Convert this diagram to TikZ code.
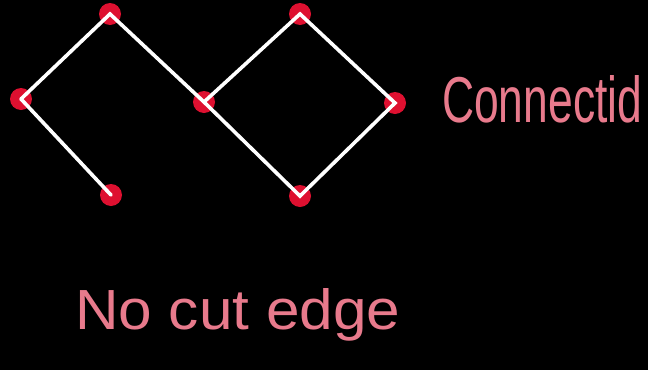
\documentclass[tikz,border=0pt]{standalone}
\usepackage{fontspec}
\usepackage{graphicx}
\setmainfont{Liberation Sans}
\definecolor{pinktext}{RGB}{232,122,140}
\definecolor{dotred}{RGB}{222,16,48}
\begin{document}
\begin{tikzpicture}[x=1pt,y=-1pt,
  vtx/.style={circle,fill=dotred,minimum size=22pt,inner sep=0pt},
  edge/.style={white,line width=3.6pt,line cap=round},
  hand/.style={text=pinktext,inner sep=0pt}]
\fill[black] (0,0) rectangle (648,370);
\useasboundingbox (0,0) rectangle (648,370);
\node[vtx] (t1) at (110,14) {};
\node[vtx] (t2) at (300,14) {};
\node[vtx] (l) at (21,99) {};
\node[vtx] (m) at (204,102) {};
\node[vtx] (r) at (395,103) {};
\node[vtx] (b1) at (111,195) {};
\node[vtx] (b2) at (300,196) {};
\draw[edge] (l.center) -- (t1.center) -- (m.center) -- (t2.center) -- (r.center) -- (b2.center) -- (m.center);
\draw[edge] (l.center) -- (b1.center);
\node[hand,anchor=base west] (c) at (442,122) {\resizebox{200pt}{47pt}{Connectid}};
\node[hand,anchor=base west] (n) at (75,329) {\resizebox{325pt}{41pt}{No cut edge}};
\end{tikzpicture}
\end{document}
